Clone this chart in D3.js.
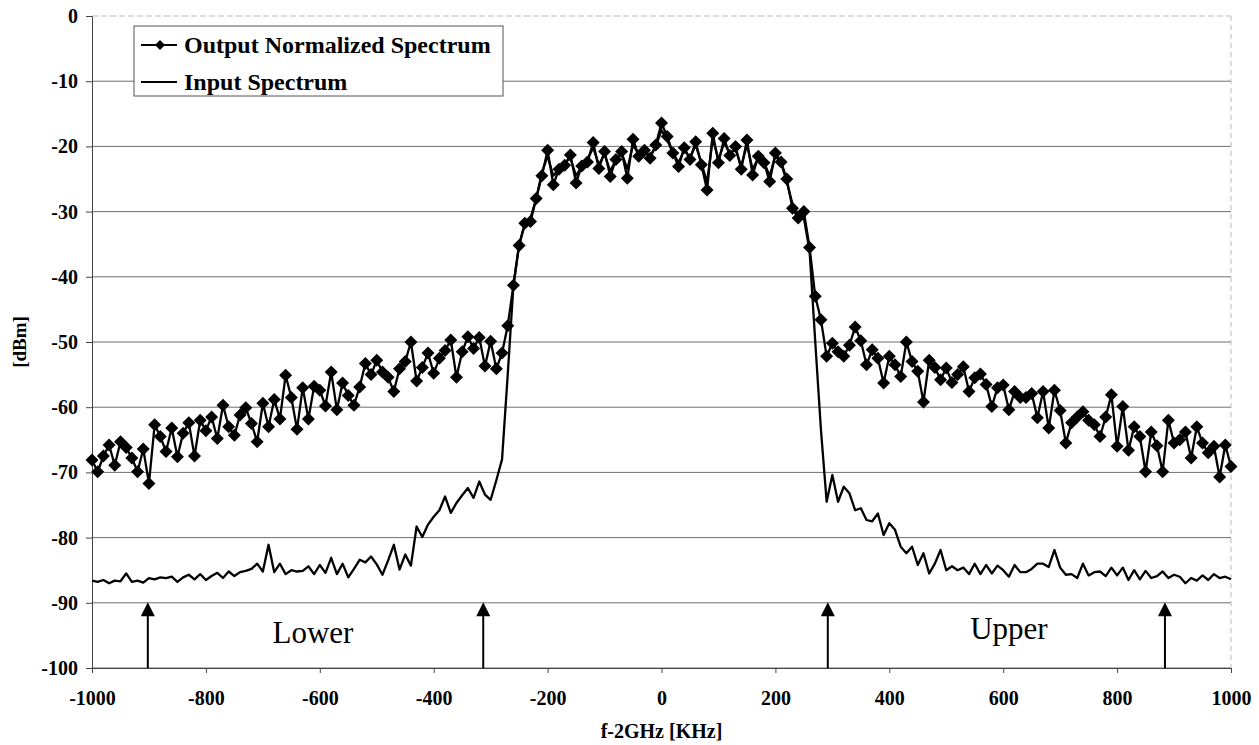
<!DOCTYPE html>
<html>
<head>
<meta charset="utf-8">
<script src="https://cdn.jsdelivr.net/npm/d3@7"></script>
<style>
  body { margin: 0; background: #fff; }
  text { font-family: "Liberation Serif", "Times New Roman", serif; }
</style>
</head>
<body>
<script>
// sampling grid of both spectra (KHz offset from 2 GHz)
const fStart = -1000, fStep = 10;

// output normalized spectrum [dBm], one value per 10 KHz from -1000 to 1000
const outputSpectrum = [
  -68.1, -69.9, -67.5, -65.8, -68.9, -65.3, -66.2, -67.8, -69.9, -66.4,
  -71.7, -62.7, -64.5, -66.8, -63.2, -67.6, -64.0, -62.4, -67.5, -62.0,
  -63.6, -61.5, -64.8, -59.7, -63.0, -64.3, -61.2, -60.1, -62.5, -65.3,
  -59.4, -63.0, -58.8, -61.8, -55.1, -58.5, -63.4, -57.0, -61.8, -56.8,
  -57.4, -59.8, -54.6, -60.4, -56.3, -58.2, -59.7, -56.9, -53.3, -55.0,
  -52.8, -54.6, -55.4, -57.6, -54.1, -53.0, -50.0, -56.0, -53.9, -51.7,
  -54.8, -52.5, -51.3, -49.7, -55.4, -51.5, -49.2, -51.0, -49.3, -53.7,
  -49.9, -54.1, -51.7, -47.5, -41.3, -35.2, -31.8, -31.5, -28.0, -24.5,
  -20.6, -25.9, -23.5, -22.9, -21.3, -25.6, -23.0, -22.4, -19.4, -23.4,
  -20.8, -24.6, -22.0, -20.8, -24.9, -18.9, -21.5, -20.6, -21.8, -19.8,
  -16.4, -18.5, -21.0, -23.1, -20.2, -22.0, -19.3, -22.8, -26.7, -18.0,
  -22.5, -18.8, -21.4, -20.0, -23.5, -19.0, -24.4, -21.5, -22.5, -25.4,
  -21.0, -22.4, -25.0, -29.5, -31.0, -30.0, -35.5, -43.0, -46.6, -52.2,
  -50.2, -51.5, -52.2, -50.5, -47.7, -49.8, -53.5, -51.2, -52.5, -56.3,
  -52.2, -53.5, -55.3, -50.0, -53.0, -54.5, -59.2, -52.8, -53.9, -55.8,
  -54.0, -56.2, -55.0, -53.8, -57.6, -55.5, -54.9, -56.5, -59.9, -57.0,
  -56.6, -60.4, -57.6, -58.5, -58.5, -57.9, -61.6, -57.6, -63.2, -57.4,
  -60.5, -65.5, -62.4, -61.5, -60.7, -62.0, -62.7, -64.5, -61.5, -58.1,
  -66.0, -59.9, -66.6, -63.0, -64.5, -69.9, -63.8, -65.9, -69.9, -62.0,
  -65.5, -65.0, -63.8, -67.8, -63.0, -65.5, -67.0, -66.0, -70.7, -65.8,
  -69.1
];

// input spectrum [dBm], same grid
const inputSpectrum = [
  -86.6, -86.8, -86.5, -87.0, -86.6, -86.7, -85.5, -86.8, -86.6, -86.9,
  -86.2, -86.4, -86.1, -86.2, -86.0, -86.8, -86.1, -85.7, -86.4, -85.6,
  -86.5, -85.9, -85.4, -86.2, -85.2, -85.9, -85.3, -85.1, -84.8, -84.0,
  -85.2, -81.1, -85.3, -84.0, -85.6, -85.0, -85.2, -85.1, -84.4, -85.6,
  -84.2, -85.4, -83.1, -85.6, -84.0, -86.1, -84.8, -83.4, -83.8, -82.9,
  -84.1, -85.7, -83.5, -81.1, -84.9, -82.6, -84.3, -78.3, -79.9, -78.0,
  -76.8, -75.8, -73.7, -76.2, -74.7, -73.5, -72.4, -73.9, -71.4, -73.4,
  -74.2, -71.2, -68.0, -55.0, -41.3, -35.0, -32.0, -31.0, -28.0, -24.0,
  -21.5, -24.5, -23.5, -22.5, -21.8, -24.5, -23.0, -22.0, -20.2, -22.8,
  -21.2, -23.8, -22.0, -21.0, -23.5, -19.8, -21.2, -20.8, -21.5, -20.0,
  -17.5, -19.0, -21.0, -22.5, -20.5, -21.8, -19.8, -22.5, -25.5, -18.8,
  -22.0, -19.5, -21.0, -20.5, -23.0, -19.8, -23.5, -21.8, -22.5, -24.5,
  -21.5, -22.5, -25.5, -28.8, -30.5, -31.0, -36.0, -50.0, -63.5, -74.5,
  -70.4, -74.5, -72.2, -73.2, -75.8, -75.5, -77.3, -77.5, -76.3, -79.6,
  -77.8, -78.8, -81.4, -82.4, -81.4, -84.2, -82.4, -85.5, -84.0, -81.9,
  -85.0, -84.4, -85.0, -84.6, -85.6, -84.0, -85.6, -84.2, -85.5, -84.3,
  -85.0, -86.0, -84.2, -85.3, -85.3, -84.8, -84.0, -84.0, -84.5, -81.9,
  -84.6, -85.7, -85.6, -86.2, -84.0, -85.8, -85.3, -85.2, -85.9, -84.6,
  -85.8, -84.6, -86.5, -85.0, -86.4, -85.1, -86.2, -85.9, -85.2, -86.2,
  -85.7, -86.0, -87.0, -86.2, -86.6, -85.8, -86.5, -85.6, -86.2, -86.0,
  -86.4
];

const xTicks = [-1000, -800, -600, -400, -200, 0, 200, 400, 600, 800, 1000];
const yTicks = [0, -10, -20, -30, -40, -50, -60, -70, -80, -90, -100];

// band edge arrows (KHz) and band names
const arrowsKHz = [-902, -313, 292, 884];
const bandNames = ["Lower", "Upper"];
const bandCenters = [-612, 610];

const seriesNames = ["Output Normalized Spectrum", "Input Spectrum"];

var W = 1259, H = 745;
var margin = { top: 16, right: 28, bottom: 77, left: 92 };
var serif = '"Liberation Serif", "Times New Roman", serif';

var svg = d3.select("body").append("svg")
  .attr("width", W).attr("height", H);
svg.append("rect").attr("width", W).attr("height", H).attr("fill", "#fff");

var w = W - margin.left - margin.right,
    h = H - margin.top - margin.bottom;

var g = svg.append("g").attr("transform", "translate(" + [margin.left, margin.top] + ")");

var x = d3.scaleLinear().domain([-1000, 1000]).range([0, w]);
var y = d3.scaleLinear().domain([-100, 0]).range([h, 0]);

// gridlines
g.append("g").selectAll("line").data(yTicks).enter().append("line")
  .attr("x1", 0).attr("x2", w)
  .attr("y1", d => y(d)).attr("y2", d => y(d))
  .attr("stroke", d => d === 0 ? "#bbb" : "#6e6e6e")
  .attr("stroke-dasharray", d => d === 0 ? "6,3" : null)
  .attr("stroke-width", 1);

// right border (faint)
g.append("line").attr("x1", w).attr("x2", w).attr("y1", 0).attr("y2", h)
  .attr("stroke", "#bbb").attr("stroke-dasharray", "5,4");

// axes (plain hyphen minus, no thousands separator)
var fmt = d => String(d);
var yAxis = d3.axisLeft(y).tickValues(yTicks).tickSize(6).tickPadding(8).tickFormat(fmt);
var xAxis = d3.axisBottom(x).tickValues(xTicks).tickSize(5).tickPadding(18).tickFormat(fmt);

var yg = g.append("g").call(yAxis);
var xg = g.append("g").attr("transform", "translate(0," + h + ")").call(xAxis);

[yg, xg].forEach(a => {
  a.attr("font-family", serif).attr("font-size", 20).attr("font-weight", "bold");
  a.select(".domain").attr("stroke", "#444");
  a.selectAll(".tick line").attr("stroke", "#444");
  a.selectAll(".tick text")
    .attr("fill", "#000")
    .style("font-family", serif)
    .style("font-weight", "bold")
    .style("font-size", "20px");
});

// series
var pts = (arr) => arr.map((v, i) => ({ f: fStart + i * fStep, v: v }));
var outPts = pts(outputSpectrum), inPts = pts(inputSpectrum);

var line = d3.line().x(d => x(d.f)).y(d => y(d.v));

g.append("path").datum(inPts)
  .attr("fill", "none").attr("stroke", "#000").attr("stroke-width", 2.3)
  .attr("stroke-linejoin", "round")
  .attr("d", line);

g.append("path").datum(outPts)
  .attr("fill", "none").attr("stroke", "#000").attr("stroke-width", 2.3)
  .attr("stroke-linejoin", "round")
  .attr("d", line);

var diamond = r => "M0," + (-r) + "L" + r + ",0L0," + r + "L" + (-r) + ",0Z";

g.selectAll(".pt").data(outPts).enter().append("path")
  .attr("class", "pt")
  .attr("transform", d => "translate(" + [x(d.f), y(d.v)] + ")")
  .attr("d", diamond(6.5))
  .attr("fill", "#000");

// band edge arrows
var tipDb = -89.9;
g.selectAll(".arrow").data(arrowsKHz).enter().append("g").attr("class", "arrow")
  .each(function (d) {
    var a = d3.select(this), ax = x(d), ty = y(tipDb);
    a.append("line").attr("x1", ax).attr("x2", ax)
      .attr("y1", y(-100)).attr("y2", ty + 12)
      .attr("stroke", "#000").attr("stroke-width", 2);
    a.append("path")
      .attr("d", "M" + ax + "," + ty + "L" + (ax + 7) + "," + (ty + 14) + "L" + (ax - 7) + "," + (ty + 14) + "Z")
      .attr("fill", "#000");
  });

g.selectAll(".band").data(bandNames).enter().append("text")
  .attr("class", "band")
  .attr("x", (d, i) => x(bandCenters[i]))
  .attr("y", (d, i) => y(i === 0 ? -96.2 : -95.6))
  .attr("text-anchor", "middle")
  .style("font-size", "31px")
  .text(d => d);

// axis titles
svg.append("text")
  .attr("x", margin.left + w / 2).attr("y", 738)
  .attr("text-anchor", "middle")
  .style("font-weight", "bold").style("font-size", "20px")
  .text("f-2GHz [KHz]");

svg.append("text")
  .attr("transform", "translate(26," + (margin.top + h / 2) + ")rotate(-90)")
  .attr("text-anchor", "middle")
  .style("font-weight", "bold").style("font-size", "19px")
  .text("[dBm]");

// legend
var lg = svg.append("g").attr("transform", "translate(134,26)");
lg.append("rect").attr("width", 369).attr("height", 70)
  .attr("fill", "#fff").attr("stroke", "#555").attr("stroke-width", 1);

var items = lg.selectAll(".item").data(seriesNames).enter().append("g")
  .attr("class", "item")
  .attr("transform", (d, i) => "translate(0," + (19 + i * 37) + ")");

items.append("line").attr("x1", 7).attr("x2", 43).attr("y1", 0).attr("y2", 0)
  .attr("stroke", "#000").attr("stroke-width", 2);
items.filter((d, i) => i === 0).append("path")
  .attr("transform", "translate(26,0)")
  .attr("d", diamond(5)).attr("fill", "#000");
items.append("text").attr("x", 50).attr("y", 8)
  .style("font-weight", "bold").style("font-size", "24px")
  .text(d => d);
</script>
</body>
</html>
